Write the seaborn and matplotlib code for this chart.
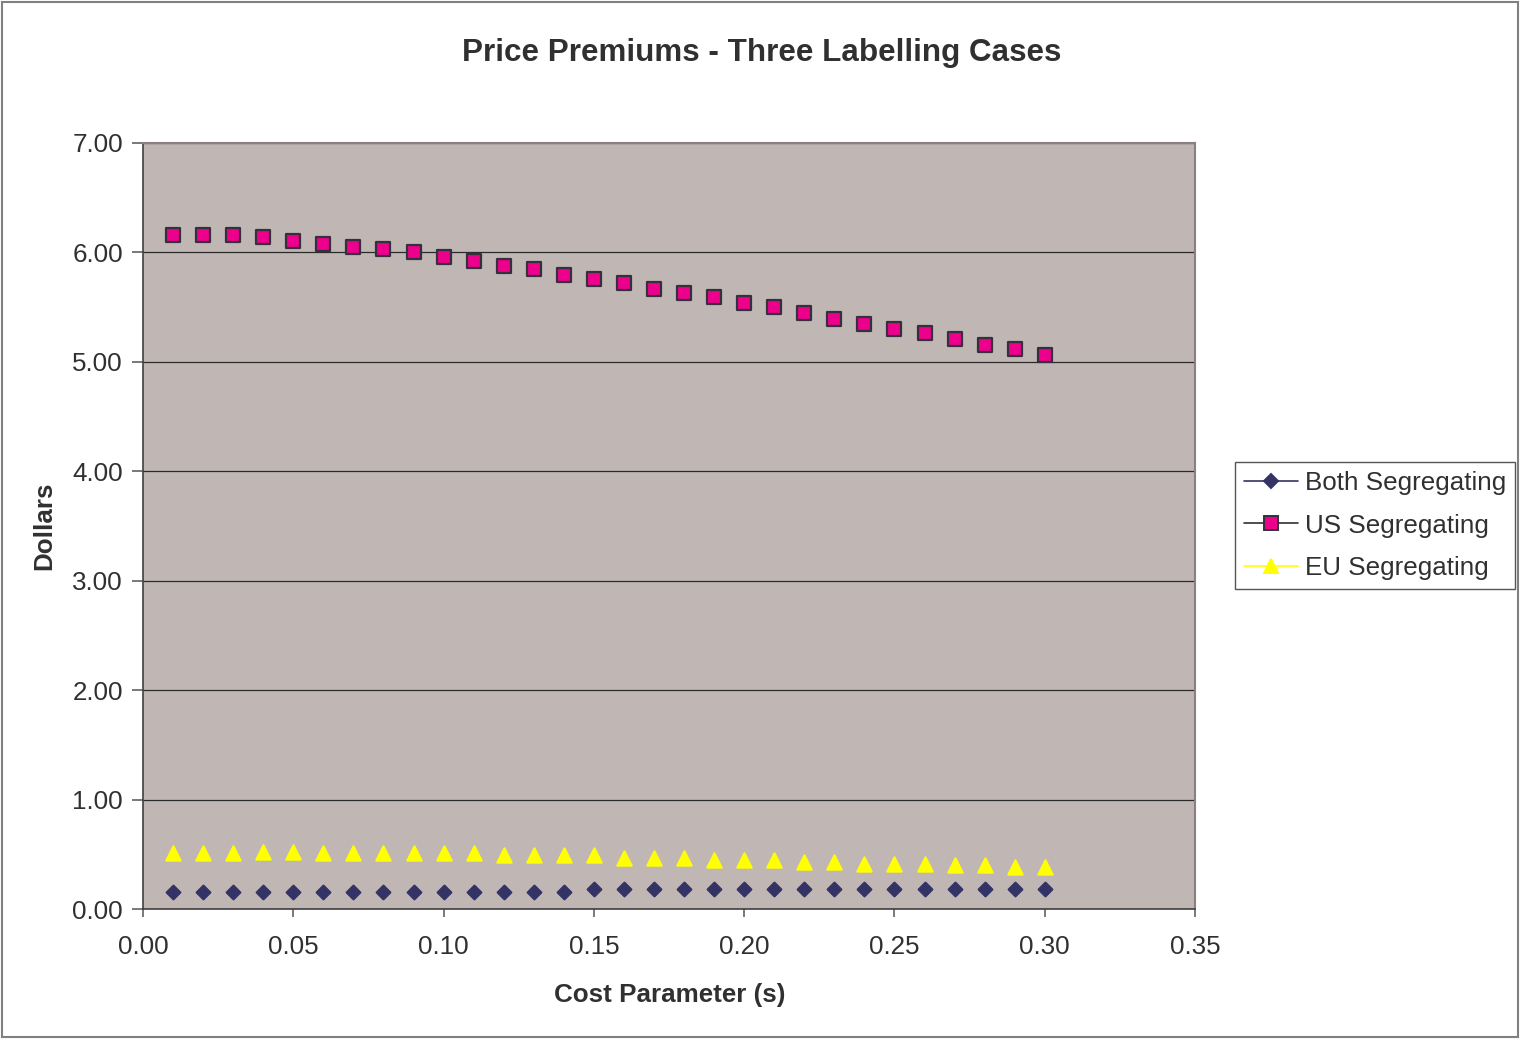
import matplotlib
matplotlib.use("Agg")
import matplotlib.pyplot as plt
from matplotlib.lines import Line2D
from matplotlib.patches import Rectangle
from matplotlib.ticker import FormatStrFormatter, MultipleLocator
import numpy as np
import pandas as pd
import seaborn as sns

# Cost parameter s
cost = [0.01, 0.02, 0.03, 0.04, 0.05, 0.06, 0.07, 0.08, 0.09, 0.10,
        0.11, 0.12, 0.13, 0.14, 0.15, 0.16, 0.17, 0.18, 0.19, 0.20,
        0.21, 0.22, 0.23, 0.24, 0.25, 0.26, 0.27, 0.28, 0.29, 0.30]

# Price premiums (dollars) for each labelling case
both_seg = [0.16, 0.16, 0.16, 0.16, 0.16, 0.16, 0.16, 0.16, 0.16, 0.16,
            0.16, 0.16, 0.16, 0.16, 0.18, 0.18, 0.18, 0.18, 0.18, 0.18,
            0.18, 0.18, 0.18, 0.18, 0.18, 0.18, 0.18, 0.18, 0.18, 0.18]
us_seg = [6.16, 6.16, 6.16, 6.14, 6.10, 6.08, 6.05, 6.03, 6.00, 5.96,
          5.92, 5.88, 5.85, 5.79, 5.76, 5.72, 5.67, 5.63, 5.59, 5.54,
          5.50, 5.45, 5.39, 5.35, 5.30, 5.26, 5.21, 5.15, 5.12, 5.06]
eu_seg = [0.51, 0.51, 0.51, 0.52, 0.52, 0.51, 0.51, 0.51, 0.51, 0.51,
          0.51, 0.49, 0.49, 0.49, 0.49, 0.47, 0.47, 0.47, 0.45, 0.45,
          0.45, 0.43, 0.43, 0.41, 0.41, 0.41, 0.40, 0.40, 0.38, 0.38]

series_names = ["Both Segregating", "US Segregating", "EU Segregating"]

sns.set_theme(style="white")
plt.rcParams["font.family"] = ["Liberation Sans", "DejaVu Sans"]
text_color = "#303030"
fs = 18.7

df = pd.DataFrame({
    "cost": cost * 3,
    "value": both_seg + us_seg + eu_seg,
    "series": np.repeat(series_names, len(cost)),
})

fig = plt.figure(figsize=(15.21, 10.39), dpi=100)
ax = fig.add_axes([0.094, 0.1251, 0.6917, 0.7373])
ax.set_facecolor("#C0B7B4")

styles = {
    "Both Segregating": dict(marker="D", color="#333366", edgecolor="#333366", s=48, line="#333366"),
    "US Segregating": dict(marker="s", color="#EC008C", edgecolor="#35303C", s=90, line="#303030"),
    "EU Segregating": dict(marker="^", color="#FFFF00", edgecolor="#FFFF00", s=105, line="#FFFF00"),
}

for name in series_names:
    st = styles[name]
    sub = df[df["series"] == name]
    sns.scatterplot(data=sub, x="cost", y="value", ax=ax, marker=st["marker"],
                    color=st["color"], edgecolor=st["edgecolor"], linewidth=1.6,
                    s=st["s"], legend=False, zorder=3)

ax.set_xlim(0, 0.35)
ax.set_ylim(0, 7)
ax.xaxis.set_major_locator(MultipleLocator(0.05))
ax.yaxis.set_major_locator(MultipleLocator(1.0))
ax.xaxis.set_major_formatter(FormatStrFormatter("%.2f"))
ax.yaxis.set_major_formatter(FormatStrFormatter("%.2f"))

ax.yaxis.grid(True, color="#2a2a2a", linewidth=0.9)
ax.xaxis.grid(False)
ax.set_axisbelow(True)

for side in ["left", "bottom"]:
    ax.spines[side].set_color("#404040")
    ax.spines[side].set_linewidth(1.2)
for side in ["top", "right"]:
    ax.spines[side].set_color("#8a8080")
    ax.spines[side].set_linewidth(1.5)

ax.tick_params(axis="both", which="major", direction="out", length=8, width=1.1,
               color="#555555", labelsize=fs, labelcolor=text_color,
               bottom=True, left=True)
ax.tick_params(axis="x", pad=13, length=6)
ax.tick_params(axis="y", pad=6.5)

ax.set_xlabel("Cost Parameter (s)", fontsize=fs, fontweight="bold", color=text_color)
ax.set_ylabel("Dollars", fontsize=fs, fontweight="bold", color=text_color)
ax.xaxis.set_label_coords(0.501, -0.096)
ax.yaxis.set_label_coords(-0.082, 0.5)
fig.text(0.501, 0.949, "Price Premiums - Three Labelling Cases", ha="center", va="center",
         fontsize=22.6, fontweight="bold", color=text_color)

handles = []
for name in series_names:
    st = styles[name]
    msize = np.sqrt(st["s"])
    handles.append(Line2D([0], [0], color=st["line"], linewidth=1.2, marker=st["marker"],
                          markersize=msize, markerfacecolor=st["color"],
                          markeredgecolor=st["edgecolor"], markeredgewidth=1.4))
leg = fig.legend(handles, series_names, loc="center left", bbox_to_anchor=(0.8117, 0.4942),
                 fontsize=fs, frameon=True, fancybox=False, framealpha=1,
                 edgecolor="#555555", handlelength=2.1, handletextpad=0.25,
                 borderpad=0.35, labelspacing=0.72, borderaxespad=0)
leg.get_frame().set_linewidth(1.0)
for t in leg.get_texts():
    t.set_color(text_color)

# outer chart border
fig.patches.append(Rectangle((0.0015, 0.002), 0.9965, 0.9965, transform=fig.transFigure,
                             fill=False, edgecolor="#808080", linewidth=1.5))

fig.savefig("out.png", dpi=100)
